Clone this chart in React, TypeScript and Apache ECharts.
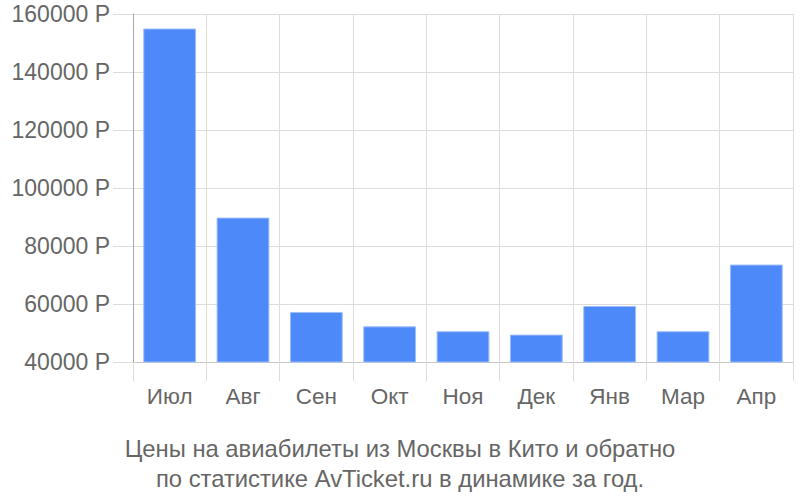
import React, { useEffect, useRef } from "react";
import * as echarts from "echarts";

const categories = ["Июл", "Авг", "Сен", "Окт", "Ноя", "Дек", "Янв", "Мар", "Апр"];
const prices = [155000, 89800, 57250, 52300, 50600, 49450, 59300, 50600, 73600];
const titleLines = [
  "Цены на авиабилеты из Москвы в Кито и обратно",
  "по статистике AvTicket.ru в динамике за год.",
];

export default function App() {
  const ref = useRef<HTMLDivElement>(null);
  useEffect(() => {
    document.body.style.margin = "0";
    const chart = echarts.init(ref.current!, null, { renderer: "svg" });
    const font = "Liberation Sans, Arial, sans-serif";
    chart.setOption({
      animation: false,
      textStyle: { fontFamily: font },
      title: {
        text: titleLines.join("\n"),
        left: "center",
        top: 428,
        textStyle: {
          fontFamily: font,
          fontSize: 23.8,
          lineHeight: 30,
          fontWeight: "normal",
          color: "#666",
        },
      },
      grid: { left: 133, right: 7, top: 14, bottom: 138 },
      xAxis: {
        type: "category",
        data: categories,
        boundaryGap: true,
        axisLine: { show: true, lineStyle: { color: "#c8c8c8", width: 1 } },
        axisTick: { show: true, length: 19, lineStyle: { color: "#dddddd" } },
        axisLabel: { color: "#666", fontSize: 22.5, margin: 23, fontFamily: font },
        splitLine: { show: true, lineStyle: { color: "#dddddd", width: 1 } },
      },
      yAxis: {
        type: "value",
        min: 40000,
        max: 160000,
        interval: 20000,
        axisLine: { show: true, lineStyle: { color: "#aaaaaa", width: 1 } },
        axisTick: { show: true, length: 20, lineStyle: { color: "#dddddd" } },
        axisLabel: {
          color: "#666",
          fontSize: 23,
          margin: 23,
          fontFamily: font,
          formatter: (v: number) => `${v} Р`,
        },
        splitLine: { show: true, lineStyle: { color: "#dddddd", width: 1 } },
      },
      series: [
        {
          type: "bar",
          data: prices,
          barCategoryGap: "28%",
          itemStyle: { color: "#4d89f9", borderColor: "#9dbdfb", borderWidth: 1 },
        },
      ],
    });
    return () => chart.dispose();
  }, []);
  return <div ref={ref} style={{ width: 800, height: 500 }} />;
}
